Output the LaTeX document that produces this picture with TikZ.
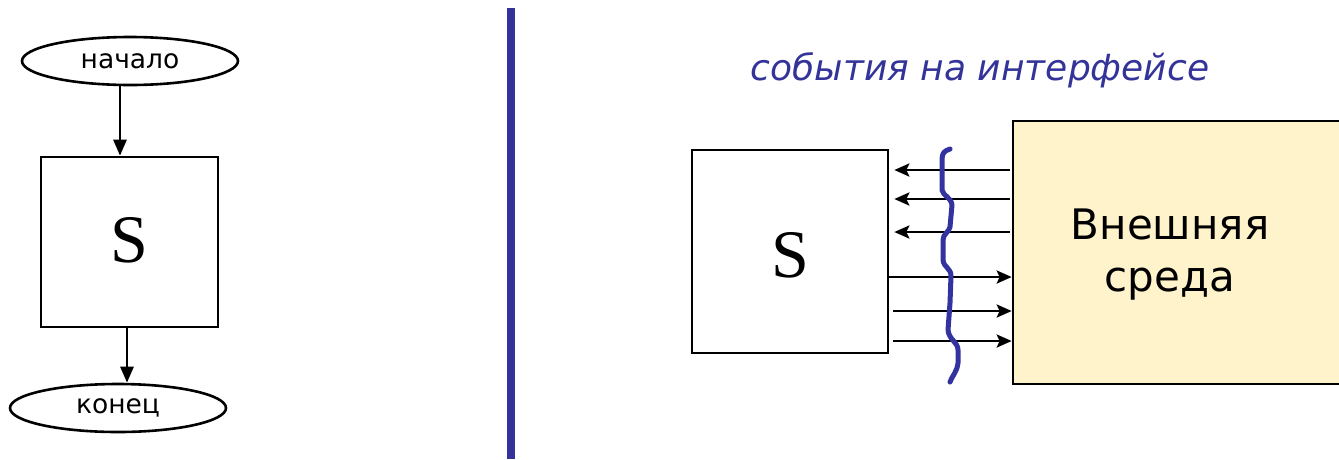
\documentclass[tikz,border=0pt]{standalone}
\usepackage{fontspec}
\setmainfont{DejaVu Sans}
\newfontfamily\serifS{Liberation Serif}
\usetikzlibrary{arrows.meta,shapes.geometric}
\definecolor{divblue}{HTML}{333399}
\definecolor{wavblue}{HTML}{3333A0}
\definecolor{envyellow}{HTML}{FFF3CC}
\tikzset{
  term/.style={draw,line width=2.6pt,ellipse,minimum width=216pt,minimum height=48pt,inner sep=0pt,font=\fontsize{26.5}{28}\selectfont},
  blk/.style={draw,line width=2.6pt,rectangle,inner sep=0pt},
  arr/.style={line width=2.8pt,-{Triangle[length=16pt,width=13pt]}},
  sarr/.style={line width=2.8pt,-{Stealth[length=15pt,width=13pt,inset=3pt]}},
  bigS/.style={font=\serifS\fontsize{68}{70}\selectfont},
}
\begin{document}
\begin{tikzpicture}[x=1pt,y=-1pt]
\useasboundingbox (0,0) rectangle (1339,459);
% left flowchart
\node[term] (start) at (130,61) {начало};
\node[blk,minimum width=177pt,minimum height=170pt] (s1) at (129.5,242) {};
\node[bigS] (s1t) at (129.5,240) {S};
\node[term] (end) at (118,408) {конец};
\draw[arr] (start.south -| 120,0) -- (s1.north -| 120,0);
\draw[arr] (s1.south -| 127,0) -- (end.north -| 127,0);
% divider
\draw[divblue,line width=8pt] (511,8) -- (511,459);
% right
\node[text=divblue,font=\itshape\fontsize{36}{40}\selectfont] (title) at (980,70) {события на интерфейсе};
\node[blk,minimum width=196pt,minimum height=203pt] (s2) at (790,251.5) {};
\node[bigS] (s2t) at (790,255) {S};
\node[blk,fill=envyellow,minimum width=330pt,minimum height=263pt] (env) at (1178,252.5) {};
\node[align=center,font=\fontsize{42}{52}\selectfont] (envt) at (1170,255) {Внешняя\\среда};
% arrows in
\foreach \yy in {170,199,232} \draw[sarr] ([xshift=-2pt]env.west |- 0,\yy) -- ([xshift=5pt]s2.east |- 0,\yy);
\foreach \yy/\xs in {277/0,311/4,341/4} \draw[sarr] ([xshift=\xs pt]s2.east |- 0,\yy) -- (env.west |- 0,\yy);
% wavy boundary
\draw[wavblue,line width=5pt,line cap=round,line join=round]
  (950,149) .. controls (944,151) and (942,153) .. (942,160)
  -- (942,190) .. controls (943,196) and (951,197) .. (952,205)
  -- (950,227) .. controls (949,232) and (943,234) .. (943,240)
  -- (943,260) .. controls (944,268) and (951,268) .. (951,276)
  -- (950,303) -- (948,330) .. controls (949,340) and (958,342) .. (958,350)
  -- (958,363) .. controls (957,372) and (952,376) .. (950,382);
\end{tikzpicture}
\end{document}
